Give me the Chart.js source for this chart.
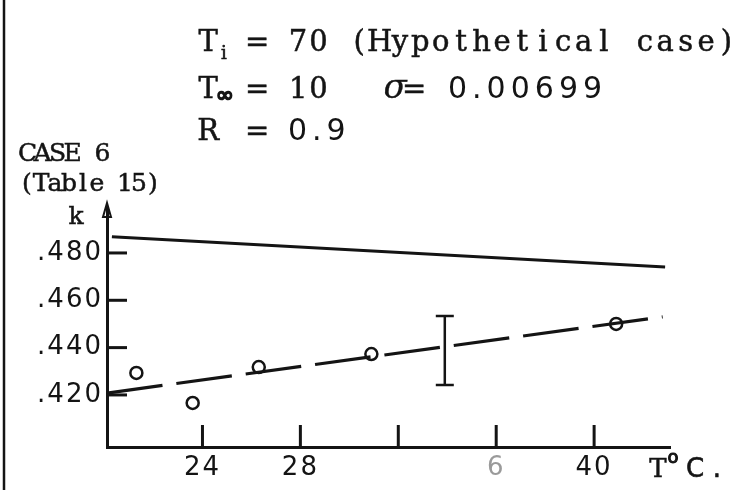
<!DOCTYPE html>
<html>
<head>
<meta charset="utf-8">
<script src="https://cdn.jsdelivr.net/npm/chart.js@4.4.1/dist/chart.umd.min.js"></script>
<style>
  html, body { margin: 0; padding: 0; background: #fff; }
  #wrap { width: 746px; height: 490px; position: relative; }
</style>
</head>
<body>
<div id="wrap"><canvas id="chart" width="746" height="490"></canvas></div>
<script>
// Measured points: temperature (deg C) and conductivity k
const temps   = [21.3, 23.6, 26.3, 30.9, 40.9];
const kValues = [0.4293, 0.4166, 0.4318, 0.4373, 0.450];

// Fitted (dashed) line end points
const fitT = [20.1, 42.8];
const fitK = [0.4208, 0.4530];

// Reference (solid) line end points
const refT = [20.3, 42.9];
const refK = [0.4868, 0.4741];

// Error bar (one standard deviation band)
const errT    = [33.9];
const errLow  = [0.4242];
const errHigh = [0.4534];

// Axis ticks and their printed labels
const xTicks      = [24, 28, 32, 36, 40];
const xTickLabels = ['24', '28', '', '6', '40'];
const yTicks      = [0.42, 0.44, 0.46, 0.48];
const yTickLabels = ['.420', '.440', '.460', '.480'];

const INK = '#141414';
const TYPE = '"DejaVu Serif", "Liberation Serif", serif';
const ROUND = '"DejaVu Sans", sans-serif';
const LETTER = '"DejaVu Sans", sans-serif';

const toPts = (xs, ys) => xs.map((x, i) => ({ x, y: ys[i] }));

// typewriter-style text: every character centred in a fixed-pitch cell
function typed(ctx, text, x, y, size, pitch, opts = {}) {
  ctx.font = (opts.italic ? 'italic ' : '') + size + 'px ' + (opts.family || TYPE);
  ctx.letterSpacing = '0px';
  ctx.lineWidth = opts.weight ?? 0.5;
  [...text].forEach((ch, i) => {
    if (ch === ' ') return;
    const w = ctx.measureText(ch).width;
    const cx = x + i * pitch + (pitch - w) / 2;
    ctx.fillText(ch, cx, y);
    if (ctx.lineWidth > 0) ctx.strokeText(ch, cx, y);
  });
}

// proportional numerals with extra tracking
function lettered(ctx, text, x, y, size, track) {
  ctx.font = size + 'px ' + ROUND;
  ctx.letterSpacing = track + 'px';
  ctx.fillText(text, x, y);
  ctx.letterSpacing = '0px';
}

// Inward tick marks, y-axis arrow, error bar and typed annotations
const decorations = {
  id: 'decorations',
  afterDatasetsDraw(chart) {
    const { ctx, chartArea, scales } = chart;
    const xs = scales.x, ys = scales.y;
    ctx.save();
    ctx.letterSpacing = '0px';
    ctx.strokeStyle = INK;
    ctx.fillStyle = INK;
    ctx.lineCap = 'butt';

    // page edge rule on the left
    ctx.lineWidth = 2.5;
    ctx.beginPath(); ctx.moveTo(4, 0); ctx.lineTo(4, 490); ctx.stroke();

    // y ticks pointing into the plot
    ctx.lineWidth = 3;
    yTicks.forEach(v => {
      const py = ys.getPixelForValue(v);
      ctx.beginPath(); ctx.moveTo(chartArea.left, py); ctx.lineTo(chartArea.left + 20, py); ctx.stroke();
    });
    // x ticks pointing up
    xTicks.forEach(v => {
      const px = xs.getPixelForValue(v);
      ctx.beginPath(); ctx.moveTo(px, chartArea.bottom); ctx.lineTo(px, chartArea.bottom - 22); ctx.stroke();
    });

    // arrow head on the k axis
    const ax = chartArea.left, ay = chartArea.top;
    ctx.lineWidth = 2;
    ctx.beginPath();
    ctx.moveTo(ax, ay - 5);
    ctx.lineTo(ax - 4, ay + 9);
    ctx.lineTo(ax + 4, ay + 9);
    ctx.closePath();
    ctx.stroke();

    // error bar
    ctx.lineWidth = 2.5;
    errT.forEach((t, i) => {
      const px = xs.getPixelForValue(t);
      const top = ys.getPixelForValue(errHigh[i]);
      const bot = ys.getPixelForValue(errLow[i]);
      ctx.beginPath();
      ctx.moveTo(px, top); ctx.lineTo(px, bot);
      ctx.moveTo(px - 9, top); ctx.lineTo(px + 9, top);
      ctx.moveTo(px - 9, bot); ctx.lineTo(px + 9, bot);
      ctx.stroke();
    });

    // typed header
    ctx.textBaseline = 'alphabetic';
    ctx.textAlign = 'left';
    const P = 20.4;
    typed(ctx, 'T', 198, 51, 29, P);
    typed(ctx, 'i', 218, 59, 18, 12, { weight: 0.6 });
    typed(ctx, '= 70 (Hypothetical case)', 247, 51, 29, P);

    typed(ctx, 'T', 198, 98, 29, P);
    typed(ctx, '\u221e', 217, 102, 22, 16, { family: ROUND, weight: 1.6 });
    typed(ctx, '= ', 247, 98, 29, P);
    typed(ctx, '10', 288, 98, 29, P);
    typed(ctx, '\u03c3', 384, 98, 34, 22, { italic: true, weight: 0.3 });
    typed(ctx, '=', 404, 98, 29, P);
    lettered(ctx, '0.00699', 448, 98, 30, 5);

    typed(ctx, 'R', 198, 140, 29, P);
    typed(ctx, '=', 247, 140, 29, P);
    lettered(ctx, '0.9', 288, 140, 30, 5);

    typed(ctx, 'CASE 6', 20, 161, 25, 15);
    typed(ctx, '(Table 15)', 20, 191, 25, 14);
    typed(ctx, 'k', 68, 224, 25, 16);

    // x-axis title
    typed(ctx, 'T', 648, 477, 26, 20);
    typed(ctx, 'o', 666, 463, 18, 14, { family: ROUND, weight: 1.0 });
    typed(ctx, 'C.', 684, 477, 26, 22, { family: ROUND, weight: 0.6 });
    ctx.restore();
  }
};

// wide lettering-guide spacing for tick numerals
const spacing = {
  id: 'spacing',
  beforeDraw(chart) { chart.ctx.letterSpacing = '2px'; },
  afterDatasetsDraw(chart) { chart.ctx.letterSpacing = '0px'; }
};

new Chart(document.getElementById('chart'), {
  type: 'scatter',
  data: {
    datasets: [
      {
        label: 'reference',
        data: toPts(refT, refK),
        showLine: true,
        borderColor: INK,
        borderWidth: 3,
        pointRadius: 0
      },
      {
        label: 'fit',
        data: toPts(fitT, fitK),
        showLine: true,
        borderColor: INK,
        borderWidth: 3.2,
        borderDash: [56, 14],
        pointRadius: 0
      },
      {
        label: 'measured',
        data: toPts(temps, kValues),
        showLine: false,
        pointStyle: 'circle',
        pointRadius: 6,
        pointBorderWidth: 2.5,
        pointBackgroundColor: '#fff',
        pointBorderColor: INK
      }
    ]
  },
  options: {
    responsive: false,
    animation: false,
    layout: { padding: { top: 208, right: 76, bottom: 0, left: 0 } },
    plugins: { legend: { display: false }, tooltip: { enabled: false } },
    scales: {
      x: {
        type: 'linear',
        min: 20.1,
        max: 43.1,
        afterFit(s) { s.height = 43; },
        afterBuildTicks(s) { s.ticks = xTicks.map(v => ({ value: v })); },
        grid: { display: false, drawTicks: false },
        border: { display: true, color: INK, width: 3 },
        ticks: {
          padding: 6,
          maxRotation: 0,
          autoSkip: false,
          color: ctx => (ctx.tick && ctx.tick.value === 36 ? '#9a9a9a' : INK),
          font: { family: LETTER, size: 26 },
          callback: v => xTickLabels[xTicks.indexOf(v)] ?? ''
        }
      },
      y: {
        type: 'linear',
        min: 0.398,
        max: 0.499,
        afterFit(s) { s.width = 107; },
        afterBuildTicks(s) { s.ticks = yTicks.map(v => ({ value: v })); },
        grid: { display: false, drawTicks: false },
        border: { display: true, color: INK, width: 3 },
        ticks: {
          padding: 4,
          autoSkip: false,
          color: INK,
          font: { family: LETTER, size: 26 },
          callback: v => yTickLabels[yTicks.indexOf(v)] ?? ''
        }
      }
    }
  },
  plugins: [spacing, decorations]
});
</script>
</body>
</html>
